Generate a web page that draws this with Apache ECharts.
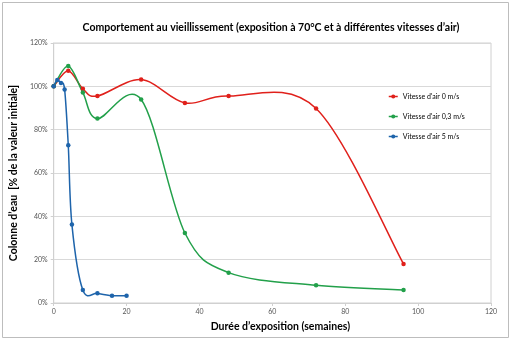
<!DOCTYPE html>
<html><head><meta charset="utf-8">
<script src="https://cdn.jsdelivr.net/npm/echarts@6/dist/echarts.min.js"></script>
<style>html,body{margin:0;padding:0;background:#fff}#c{width:512px;height:341px}</style>
</head><body><div id="c"></div>
<script>
const weeksRed = [0, 4, 8, 12, 24, 36, 48, 72, 96];
const valuesRed = [100, 107.2, 98.9, 95.5, 103.1, 92.3, 95.5, 89.8, 18];
const weeksGreen = [0, 4, 8, 12, 24, 36, 48, 72, 96];
const valuesGreen = [100, 109.4, 97.1, 85.1, 93.9, 32.3, 14.0, 8.2, 6.0];
const weeksBlue = [0, 1, 2, 3, 4, 5, 8, 12, 16, 20];
const valuesBlue = [100, 102.9, 101.5, 98.5, 72.8, 36.2, 6.0, 4.5, 3.4, 3.4];
const seriesNames = ["Vitesse d'air 0 m/s", "Vitesse d'air 0,3 m/s", "Vitesse d'air 5 m/s"];
const colors = ['#e0201b', '#22a04a', '#1e64ab'];

const zip = (xs, ys) => xs.map((x, i) => [x, ys[i]]);
const dataSets = [zip(weeksRed, valuesRed), zip(weeksGreen, valuesGreen), zip(weeksBlue, valuesBlue)];

// Excel-like smoothed line: cubic Bezier through data points (converted with the axes' scales)
function makeRender(pts, color) {
  return function (params, api) {
    const i = params.dataIndex;
    if (i >= pts.length - 1) return null;
    const P = k => api.coord(pts[Math.max(0, Math.min(pts.length - 1, k))]);
    const p0 = P(i - 1), p1 = P(i), p2 = P(i + 1), p3 = P(i + 2);
    const t = 1 / 6;
    return {
      type: 'bezierCurve',
      shape: {
        x1: p1[0], y1: p1[1], x2: p2[0], y2: p2[1],
        cpx1: p1[0] + (p2[0] - p0[0]) * t, cpy1: p1[1] + (p2[1] - p0[1]) * t,
        cpx2: p2[0] - (p3[0] - p1[0]) * t, cpy2: p2[1] - (p3[1] - p1[1]) * t
      },
      style: { stroke: color, fill: 'none', lineWidth: 1.5 },
      silent: true
    };
  };
}

const chart = echarts.init(document.getElementById('c'));
const font = 'Lato';
const series = [];
dataSets.forEach((d, i) => {
  series.push({
    name: seriesNames[i], type: 'line', data: d, smooth: false, z: 3,
    symbol: 'circle', symbolSize: 4.5, showSymbol: true,
    lineStyle: { color: colors[i], width: 1.5, opacity: 0 },
    itemStyle: { color: colors[i] }
  });
});
dataSets.forEach((d, i) => {
  series.push({
    name: 'curve' + i, type: 'custom', coordinateSystem: 'cartesian2d', z: 2,
    data: d, encode: { x: 0, y: 1 }, renderItem: makeRender(d, colors[i])
  });
});

chart.setOption({
  animation: false,
  textStyle: { fontFamily: font },
  title: {
    text: 'Comportement au vieillissement (exposition à 70°C et à différentes vitesses d’air)',
    left: 266, top: 17, textAlign: 'center',
    textStyle: { fontSize: 10.5, fontWeight: 'bold', color: '#000', fontFamily: font }
  },
  graphic: [{
    type: 'rect', shape: { x: 2.5, y: 2.5, width: 506, height: 335 },
    style: { fill: 'none', stroke: '#bdbdbd', lineWidth: 1 }, silent: true
  }],
  legend: {
    orient: 'vertical', left: 383, top: 88, itemGap: 13,
    itemWidth: 9, itemHeight: 5,
    textStyle: { fontSize: 7, color: '#000', fontFamily: font },
    data: seriesNames.map((n, i) => ({ name: n, lineStyle: { color: colors[i], width: 1.5, opacity: 1 } }))
  },
  grid: { left: 52, right: 21, top: 43, bottom: 38, show: true, borderColor: '#d0d0d0', borderWidth: 1 },
  xAxis: {
    type: 'value', min: 0, max: 120, interval: 20,
    name: 'Durée d’exposition (semaines)', nameLocation: 'middle', nameGap: 18,
    nameTextStyle: { fontSize: 10.5, fontWeight: 'bold', color: '#000', fontFamily: font, padding: [0, 0, 0, 16] },
    axisLine: { show: true, lineStyle: { color: '#d0d0d0' } },
    axisTick: { show: true, length: 3, lineStyle: { color: '#d0d0d0' } },
    axisLabel: { fontSize: 7, color: '#555', margin: 5 },
    splitLine: { show: false }
  },
  yAxis: {
    type: 'value', min: 0, max: 120, interval: 20,
    name: 'Colonne d’eau  [% de la valeur initiale]', nameLocation: 'middle', nameGap: 30,
    nameTextStyle: { fontSize: 10.5, fontWeight: 'bold', color: '#000', fontFamily: font },
    axisLine: { show: true, lineStyle: { color: '#d0d0d0' } },
    axisTick: { show: true, length: 3, lineStyle: { color: '#d0d0d0' } },
    axisLabel: { fontSize: 7, color: '#555', margin: 6, formatter: '{value}%' },
    splitLine: { show: true, lineStyle: { color: '#d9d9d9' } }
  },
  series: series
});
</script></body></html>
